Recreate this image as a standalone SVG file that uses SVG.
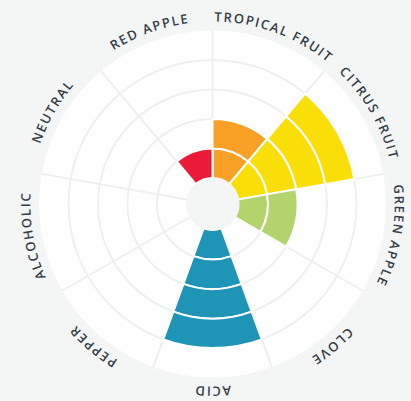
<svg xmlns="http://www.w3.org/2000/svg" width="411" height="401" viewBox="0 0 411 401">
<style>
.grid{fill:none;stroke:#eef0f0;stroke-width:2}
.seg{stroke:#ffffff;stroke-width:2;stroke-linejoin:miter}
.lbl{font-family:"Open Sans","Liberation Sans",sans-serif;font-weight:600;font-size:13px;letter-spacing:1.6px;fill:#343e48}
.orange{fill:#f8a126}
.yellow{fill:#f9df07}
.green{fill:#b3d36c}
.blue{fill:#1e95b7}
.red{fill:#ec1a38}
</style>
<defs>
<path id="p20" d="M41.006 141.581 A182.5 182.5 0 0 1 383.994 266.419"/>
<path id="p60" d="M121.25 45.95 A182.5 182.5 0 0 1 303.75 362.05"/>
<path id="p100" d="M244.191 24.273 A182.5 182.5 0 0 1 180.809 383.727"/>
<path id="p140" d="M352.303 86.691 A182.5 182.5 0 0 1 72.697 321.309"/>
<path id="p180" d="M395 204 A182.5 182.5 0 0 1 30 204"/>
<path id="p220" d="M352.303 321.309 A182.5 182.5 0 0 1 72.697 86.691"/>
<path id="p260" d="M244.191 383.727 A182.5 182.5 0 0 1 180.809 24.273"/>
<path id="p300" d="M121.25 362.05 A182.5 182.5 0 0 1 303.75 45.95"/>
<path id="p340" d="M41.006 266.419 A182.5 182.5 0 0 1 383.994 141.581"/>
</defs>
<rect x="0" y="0" width="411" height="401" fill="#f4f6f6"/>
<circle cx="212.5" cy="204" r="173.5" fill="#ffffff"/>
<g id="grid">
<circle class="grid" cx="212.5" cy="204" r="55.5"/>
<circle class="grid" cx="212.5" cy="204" r="85"/>
<circle class="grid" cx="212.5" cy="204" r="114.5"/>
<circle class="grid" cx="212.5" cy="204" r="144"/>
<path class="grid" d="M212.5 204 L212.5 30.5 M212.5 204 L324.024 71.091 M212.5 204 L383.364 173.872 M212.5 204 L362.755 290.75 M212.5 204 L271.84 367.037 M212.5 204 L153.16 367.037 M212.5 204 L62.245 290.75 M212.5 204 L41.636 173.872 M212.5 204 L100.976 71.091"/>
</g>
<g id="connectors"></g>
<g id="tropical-fruit">
<path class="seg orange" d="M212.5 148.5 A55.5 55.5 0 0 1 248.175 161.485 L229.212 184.083 A26 26 0 0 0 212.5 178 Z"/>
<path class="seg orange" d="M212.5 119 A85 85 0 0 1 267.137 138.886 L248.175 161.485 A55.5 55.5 0 0 0 212.5 148.5 Z"/>
<text class="lbl"><textPath href="#p20" startOffset="50%" text-anchor="middle">TROPICAL FRUIT</textPath></text>
</g>
<g id="citrus-fruit">
<path class="seg yellow" d="M248.175 161.485 A55.5 55.5 0 0 1 267.157 194.363 L238.105 199.485 A26 26 0 0 0 229.212 184.083 Z"/>
<path class="seg yellow" d="M267.137 138.886 A85 85 0 0 1 296.209 189.24 L267.157 194.363 A55.5 55.5 0 0 0 248.175 161.485 Z"/>
<path class="seg yellow" d="M286.099 116.288 A114.5 114.5 0 0 1 325.261 184.117 L296.209 189.24 A85 85 0 0 0 267.137 138.886 Z"/>
<path class="seg yellow" d="M305.061 93.69 A144 144 0 0 1 354.312 178.995 L325.261 184.117 A114.5 114.5 0 0 0 286.099 116.288 Z"/>
<text class="lbl"><textPath href="#p60" startOffset="50%" text-anchor="middle">CITRUS FRUIT</textPath></text>
</g>
<g id="green-apple">
<path class="seg green" d="M267.157 194.363 A55.5 55.5 0 0 1 260.564 231.75 L235.017 217 A26 26 0 0 0 238.105 199.485 Z"/>
<path class="seg green" d="M296.209 189.24 A85 85 0 0 1 286.112 246.5 L260.564 231.75 A55.5 55.5 0 0 0 267.157 194.363 Z"/>
<text class="lbl"><textPath href="#p100" startOffset="50%" text-anchor="middle">GREEN APPLE</textPath></text>
</g>
<g id="clove">
<text class="lbl"><textPath href="#p140" startOffset="50%" text-anchor="middle">CLOVE</textPath></text>
</g>
<g id="acid">
<path class="seg blue" d="M231.482 256.153 A55.5 55.5 0 0 1 193.518 256.153 L203.607 228.432 A26 26 0 0 0 221.393 228.432 Z"/>
<path class="seg blue" d="M241.572 283.874 A85 85 0 0 1 183.428 283.874 L193.518 256.153 A55.5 55.5 0 0 0 231.482 256.153 Z"/>
<path class="seg blue" d="M251.661 311.595 A114.5 114.5 0 0 1 173.339 311.595 L183.428 283.874 A85 85 0 0 0 241.572 283.874 Z"/>
<path class="seg blue" d="M261.751 339.316 A144 144 0 0 1 163.249 339.316 L173.339 311.595 A114.5 114.5 0 0 0 251.661 311.595 Z"/>
<text class="lbl"><textPath href="#p180" startOffset="50%" text-anchor="middle">ACID</textPath></text>
</g>
<g id="pepper">
<text class="lbl"><textPath href="#p220" startOffset="50%" text-anchor="middle">PEPPER</textPath></text>
</g>
<g id="alcoholic">
<text class="lbl"><textPath href="#p260" startOffset="50%" text-anchor="middle">ALCOHOLIC</textPath></text>
</g>
<g id="neutral">
<text class="lbl"><textPath href="#p300" startOffset="50%" text-anchor="middle">NEUTRAL</textPath></text>
</g>
<g id="red-apple">
<path class="seg red" d="M176.825 161.485 A55.5 55.5 0 0 1 212.5 148.5 L212.5 178 A26 26 0 0 0 195.788 184.083 Z"/>
<text class="lbl"><textPath href="#p340" startOffset="50%" text-anchor="middle">RED APPLE</textPath></text>
</g>
<circle cx="212.5" cy="204" r="26.5" fill="#f4f6f6"/>
</svg>
